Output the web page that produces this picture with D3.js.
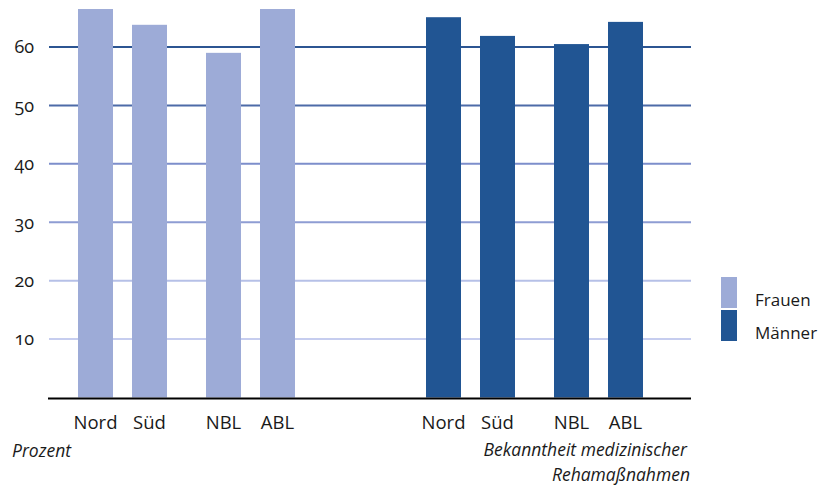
<!DOCTYPE html>
<html><head><meta charset="utf-8">
<script src="https://cdn.jsdelivr.net/npm/d3@7"></script>
<style>
body{margin:0;background:#fff;}
text{font-family:"Open Sans","Noto Sans",sans-serif;fill:#1a1a1a;}
</style></head>
<body><svg id="c" width="822" height="488"></svg>
<script>
const groups = ["Frauen", "Männer"];
const pairs = [["Nord", "Süd"], ["NBL", "ABL"]];
const categories = ["Nord", "Süd", "NBL", "ABL"];
const frauen = [66.5, 63.8, 59.0, 66.5];
const maenner = [65.1, 61.9, 60.5, 64.3];
const yTicks = [10, 20, 30, 40, 50, 60];

const values = {Frauen: frauen, "Männer": maenner};
const colors = {Frauen: "#9dabd7", "Männer": "#215593"};
const gridColors = ["#c6cdef", "#b6c0e7", "#8e9dd3", "#7d8ecb", "#4d6ba8", "#2c5592"];

const svg = d3.select("#c");
const y = d3.scaleLinear().domain([0, 60]).range([397.5, 47]);
const x0 = d3.scaleBand().domain(groups).range([12.5, 708.5]);
const x1 = d3.scaleBand().domain([0, 1]).range([-128, 128]);
const x2 = d3.scaleBand().domain([0, 1]).range([10, 118]);
const bw = 35;
function cx(g, cat){
  const p = pairs.findIndex(pr => pr.includes(cat));
  const i = pairs[p].indexOf(cat);
  const gc = x0(g) + x0.bandwidth()/2;
  return gc + x1(p) + x2(i) + x2.bandwidth()/2;
}

// gridlines
svg.append("g").selectAll("line").data(yTicks).join("line")
  .attr("x1", 49).attr("x2", 691)
  .attr("y1", d => y(d)).attr("y2", d => y(d))
  .attr("stroke", (d,i) => gridColors[i]).attr("stroke-width", 2);

// bars
groups.forEach(g => {
  svg.append("g").selectAll("rect").data(categories).join("rect")
    .attr("x", c => cx(g, c) - bw/2)
    .attr("width", bw)
    .attr("y", (c,i) => y(values[g][i]))
    .attr("height", (c,i) => y(0) - y(values[g][i]))
    .attr("fill", colors[g]);
  svg.append("g").selectAll("text").data(categories).join("text")
    .attr("x", c => cx(g, c)).attr("y", 429)
    .attr("text-anchor", "middle").attr("font-size", 18.5)
    .text(c => c);
});

// axis line
svg.append("line").attr("x1", 48).attr("x2", 691).attr("y1", y(0)+1).attr("y2", y(0)+1)
  .attr("stroke", "#000").attr("stroke-width", 2);

// y axis labels
const yAxis = d3.axisLeft(y).tickValues(yTicks).tickSize(0).tickPadding(0);
const ya = svg.append("g").attr("transform", "translate(34,0)").call(yAxis);
ya.select(".domain").remove();
ya.selectAll("text").attr("font-size", 18).style("font-family", '"Open Sans",sans-serif')
  .style("font-variant-numeric", "oldstyle-nums").attr("fill", "#1a1a1a");

// titles
svg.append("text").attr("x", 12).attr("y", 457).attr("font-size", 17.5).attr("font-style", "italic").text("Prozent");
svg.append("text").attr("x", 687).attr("y", 456).attr("text-anchor", "end").attr("font-size", 17.5).attr("font-style", "italic").text("Bekanntheit medizinischer");
svg.append("text").attr("x", 690).attr("y", 481).attr("text-anchor", "end").attr("font-size", 17.5).attr("font-style", "italic").text("Rehamaßnahmen");

// legend
const lg = svg.append("g");
groups.forEach((g, i) => {
  lg.append("rect").attr("x", 721).attr("y", 277 + i*33).attr("width", 16).attr("height", 31).attr("fill", colors[g]);
  lg.append("text").attr("x", 755).attr("y", 306 + i*33).attr("font-size", 17).text(g);
});
</script></body></html>
